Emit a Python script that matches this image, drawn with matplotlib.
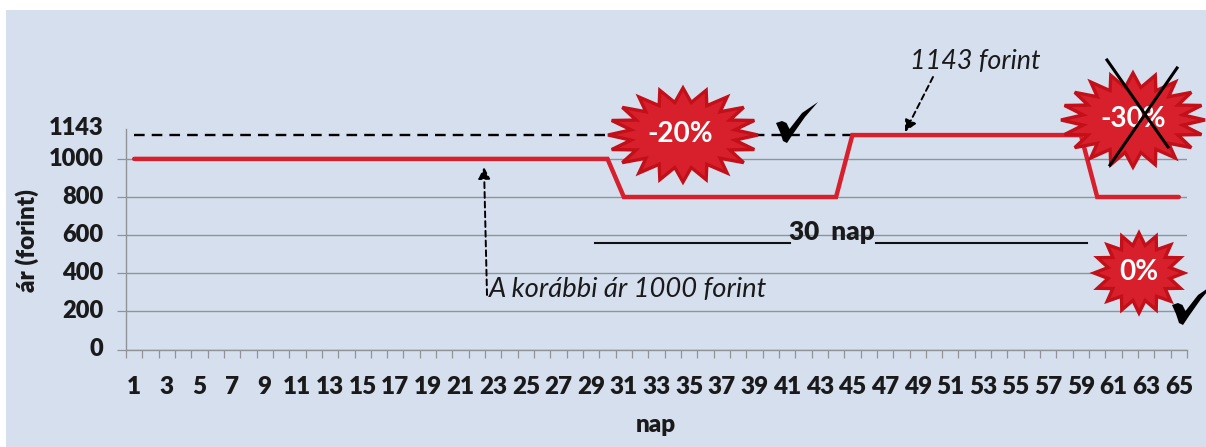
import numpy as np
import matplotlib
matplotlib.use("Agg")
import matplotlib.pyplot as plt
from matplotlib.patches import Rectangle, Polygon
from matplotlib.transforms import Affine2D, ScaledTranslation

# ---- data ----
days = [1, 30, 31, 44, 45, 59, 60, 65]
price = [1000, 1000, 800, 800, 1125, 1125, 800, 800]
reference_days = [1, 45]
reference_price = [1125, 1125]
y_ticks = [0, 200, 400, 600, 800, 1000]
x_labels = list(range(1, 66, 2))
extra_tick_label = "1143"

W, H = 1206, 447
plt.rcParams["font.family"] = ["Lato", "DejaVu Sans"]
fig = plt.figure(figsize=(W / 100, H / 100), dpi=100, facecolor="white")
px = Affine2D().scale(1, -1).translate(0, H)   # reference pixel coordinates

BG = "#d5dfee"
GRID = "#8f9499"
RED = "#d8202c"
DARK = "#c20f18"
TXT = "#1a1a1a"

fig.patches.append(Rectangle((6, 10), W - 6, H - 10, transform=px, facecolor=BG, edgecolor="none", zorder=-5))

L, R, T, B = 126, 1187, 129, 349.5
ax = fig.add_axes([L / W, 1 - B / H, (R - L) / W, (B - T) / H])
ax.patch.set_alpha(0)
ax.set_xlim(0.5, 65.5)
ax.set_ylim(0, (B - T) / 0.1906)
for s in ("top", "right"):
    ax.spines[s].set_visible(False)
for s in ("left", "bottom"):
    ax.spines[s].set_color(GRID)
    ax.spines[s].set_linewidth(1.0)

ax.set_yticks(y_ticks)
ax.set_yticklabels([str(v) for v in y_ticks], fontsize=17, fontweight="heavy", color=TXT)
ax.tick_params(axis="y", length=6.2, width=0.9, color=GRID, pad=10)
ax.grid(axis="y", color=GRID, linewidth=1.0, zorder=0)
ax.set_axisbelow(True)
lift = ScaledTranslation(0, 1.5 / 72, fig.dpi_scale_trans)
for lab in ax.get_yticklabels():
    lab.set_transform(lab.get_transform() + lift)

ax.set_xticks(x_labels)
ax.set_xticklabels([str(v) for v in x_labels], fontsize=17.5, fontweight="heavy", color=TXT)
ax.tick_params(axis="x", which="major", length=0, pad=19)
ax.set_xticks(np.arange(0.5, 66, 1), minor=True)
ax.tick_params(axis="x", which="minor", length=6, width=0.9, color=GRID)

ax.plot(reference_days, reference_price, color="black", lw=1.7, dashes=(4.5, 3), zorder=2)
ax.plot(days, price, color=RED, lw=3.2, solid_capstyle="round", solid_joinstyle="miter", zorder=3)


def ftext(x, y, s, **kw):
    kw.setdefault("ha", "center")
    kw.setdefault("va", "center")
    kw.setdefault("color", TXT)
    return fig.text(x, y, s, transform=px, **kw)


ftext(76.5, 128, extra_tick_label, fontsize=17, fontweight="heavy")
ftext(27, 240, "ár (forint)", fontsize=17.5, fontweight="heavy", rotation=90)
ftext(656, 425, "nap", fontsize=17.5, fontweight="heavy")
ftext(628.5, 289, "A korábbi ár 1000 forint", fontsize=19.7, style="italic")
ftext(975.5, 62, "1143 forint", fontsize=19.4, style="italic")
ftext(832, 232, "30  nap", fontsize=18.8, fontweight="heavy")


def fline(xs, ys, **kw):
    ln = plt.Line2D(xs, ys, transform=px, **kw)
    ln.set_zorder(kw.get("zorder", 6))
    fig.add_artist(ln)


fline([595, 790], [243, 243], color="#111111", lw=1.5)
fline([876, 1087], [243, 243], color="#111111", lw=1.5)


def arrow(start, end):
    a = ax.annotate("", xy=end, xytext=start, xycoords=px, textcoords=px,
                    arrowprops=dict(arrowstyle="-|>,head_width=0.35,head_length=0.7", color="black",
                                    lw=1.4, ls=(0, (3, 2)), shrinkA=0, shrinkB=0))
    return a


arrow((487, 295), (484, 167))
arrow((933, 77), (905, 132))


def star(cx, cy, w, h, n=20, inner=0.70, label="", fs=18, lx=0):
    ang = np.linspace(0, 2 * np.pi, 2 * n, endpoint=False) + np.pi / 2
    r = np.where(np.arange(2 * n) % 2 == 0, 1.0, inner)
    pts = np.column_stack([cx + w / 2 * r * np.cos(ang), cy - h / 2 * r * np.sin(ang)])
    fig.add_artist(Polygon(pts, closed=True, transform=px, facecolor=RED, edgecolor=DARK, lw=2.4,
                           joinstyle="miter", zorder=5))
    ftext(cx + lx, cy - 1, label, color="white", fontsize=fs, fontweight="bold", zorder=7)


star(683, 135, 150, 94, label="-20%", fs=20, lx=-3)
star(1133, 120, 144, 94, label="-30%", fs=20)
star(1139, 273, 90, 80, n=16, inner=0.70, label="0%", fs=20)

fline([1107, 1168], [60, 147], color="black", lw=2.2, zorder=8)
fline([1177, 1110], [68, 165], color="black", lw=2.2, zorder=8)

CHECK = np.array([(0, 21), (6, 19), (10.5, 21), (13.5, 27), (26, 11), (42, 0), (29, 15), (17, 32), (11, 41), (7, 39), (4, 30)], float)


def check(x, y):
    fig.add_artist(Polygon(CHECK + (x, y), closed=True, transform=px, facecolor="black",
                           edgecolor="none", zorder=8))


check(776, 102)
check(1172, 284)

fig.savefig("out.png", dpi=100, facecolor="white")
